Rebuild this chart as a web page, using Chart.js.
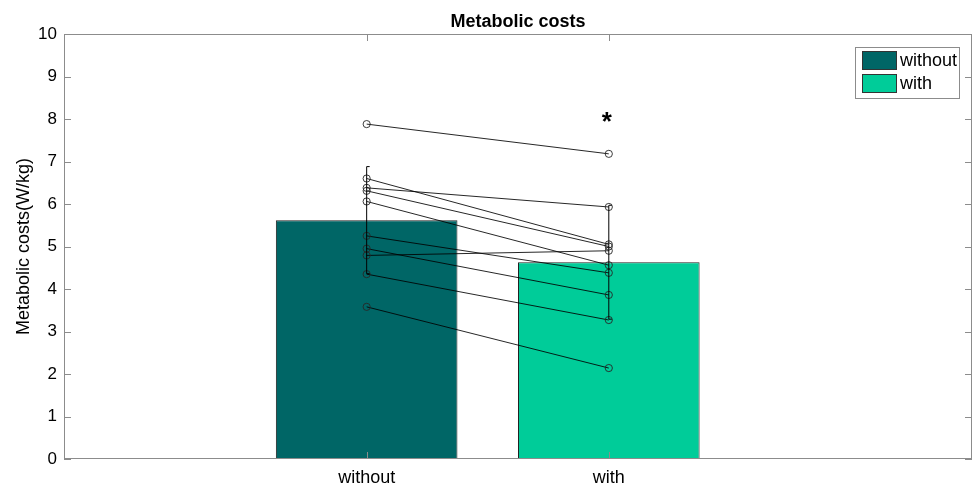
<!DOCTYPE html>
<html>
<head>
<meta charset="utf-8">
<script src="https://cdn.jsdelivr.net/npm/chart.js@4"></script>
<style>
  html, body { margin: 0; padding: 0; background: #fff; overflow: hidden; }
</style>
</head>
<body>
<canvas id="c" width="973" height="486"></canvas>
<script>
// categories and values
const categories = ['without', 'with'];
const barColors = ['#006666', '#00cc99'];
const meanCost = [5.62, 4.63];
const sdCost = [1.26, 1.34];
const withoutCost = [7.88, 6.60, 6.38, 6.31, 6.06, 5.25, 4.95, 4.79, 4.35, 3.58];
const withCost    = [7.18, 5.05, 5.93, 5.00, 4.56, 4.38, 3.86, 4.90, 3.27, 2.14];
const yTicks = [0, 1, 2, 3, 4, 5, 6, 7, 8, 9, 10];
const starAt = { x: 2, y: 8.0 };

const axisGrey = '#8c8c8c';
const fontFam = '"Liberation Sans", Arial, sans-serif';

// one dataset per subject: connected open circles
const subjectSets = withoutCost.map((v, i) => ({
  type: 'line',
  data: [{ x: 1, y: v }, { x: 2, y: withCost[i] }],
  borderColor: 'rgba(0,0,0,0.85)',
  borderWidth: 1,
  pointStyle: 'circle',
  pointRadius: 3.6,
  pointBorderWidth: 1,
  pointBorderColor: 'rgba(40,40,40,0.9)',
  pointBackgroundColor: 'rgba(0,0,0,0)',
  order: 1
}));

// error bars as vertical segments with dash caps
const errorSets = meanCost.map((m, i) => ({
  type: 'line',
  data: [{ x: i + 1, y: m - sdCost[i] }, { x: i + 1, y: m + sdCost[i] }],
  borderColor: '#000',
  borderWidth: 1,
  pointStyle: 'dash',
  pointRadius: 3,
  pointBorderColor: '#000',
  pointBorderWidth: 1,
  order: 1
}));

const boxPlugin = {
  id: 'box',
  afterDraw(chart) {
    const { ctx, chartArea: a, scales } = chart;
    ctx.save();
    // axes box
    ctx.strokeStyle = axisGrey;
    ctx.lineWidth = 1;
    ctx.strokeRect(a.left + 0.5, a.top + 0.5, a.right - a.left - 1, a.bottom - a.top - 1);
    // inside ticks
    ctx.beginPath();
    yTicks.forEach(t => {
      const y = Math.round(scales.y.getPixelForValue(t)) + 0.5;
      ctx.moveTo(a.left, y); ctx.lineTo(a.left + 7, y);
      ctx.moveTo(a.right, y); ctx.lineTo(a.right - 7, y);
    });
    categories.forEach((c, i) => {
      const x = Math.round(scales.x.getPixelForValue(i + 1)) + 0.5;
      ctx.moveTo(x, a.bottom); ctx.lineTo(x, a.bottom - 7);
      ctx.moveTo(x, a.top); ctx.lineTo(x, a.top + 7);
    });
    ctx.stroke();

    // title
    ctx.fillStyle = '#000';
    ctx.font = 'bold 18px ' + fontFam;
    ctx.textAlign = 'center';
    ctx.textBaseline = 'alphabetic';
    ctx.fillText('Metabolic costs', (a.left + a.right) / 2, 27);

    // significance star
    ctx.font = 'bold 26px ' + fontFam;
    ctx.textBaseline = 'middle';
    ctx.fillText('*', scales.x.getPixelForValue(starAt.x) - 2, scales.y.getPixelForValue(starAt.y) + 4);

    // legend
    const lx = 855, ly = 47, lw = 104, lh = 51;
    ctx.fillStyle = '#fff';
    ctx.fillRect(lx, ly, lw, lh);
    ctx.strokeStyle = axisGrey;
    ctx.strokeRect(lx + 0.5, ly + 0.5, lw, lh);
    ctx.font = '18px ' + fontFam;
    ctx.textAlign = 'left';
    categories.forEach((c, i) => {
      const y = ly + 4 + i * 23;
      ctx.fillStyle = barColors[i];
      ctx.fillRect(lx + 7, y + 0.5, 34, 18);
      ctx.strokeStyle = '#333';
      ctx.strokeRect(lx + 7.5, y + 0.5, 34, 18);
      ctx.fillStyle = '#000';
      ctx.fillText(c, lx + 45, y + 10);
    });
    ctx.restore();
  }
};

new Chart(document.getElementById('c'), {
  type: 'bar',
  data: {
    datasets: [
      {
        type: 'bar',
        data: meanCost.map((m, i) => ({ x: i + 1, y: m })),
        backgroundColor: barColors,
        borderColor: '#222',
        borderWidth: 1,
        barPercentage: 0.75,
        categoryPercentage: 1,
        order: 2
      },
      ...errorSets,
      ...subjectSets
    ]
  },
  options: {
    responsive: false,
    animation: false,
    layout: { autoPadding: false, padding: { top: 34, right: 1, left: 0, bottom: 0 } },
    plugins: { legend: { display: false }, tooltip: { enabled: false }, title: { display: false } },
    scales: {
      x: {
        type: 'linear',
        min: -0.25,
        max: 3.5,
        offset: false,
        grid: { display: false, drawTicks: false },
        border: { display: false },
        afterBuildTicks: s => { s.ticks = categories.map((c, i) => ({ value: i + 1 })); },
        afterFit: s => { s.height = 27; s.paddingLeft = 0; s.paddingRight = 0; },
        ticks: {
          autoSkip: false,
          maxRotation: 0,
          padding: 8,
          color: '#000',
          font: { size: 18, family: fontFam },
          callback: v => categories[v - 1] || ''
        }
      },
      y: {
        min: 0,
        max: 10,
        grid: { display: false, drawTicks: false },
        border: { display: false },
        afterBuildTicks: s => { s.ticks = yTicks.map(v => ({ value: v })); },
        afterFit: s => { s.width = 64; s.paddingTop = 0; s.paddingBottom = 0; },
        ticks: {
          padding: 7,
          color: '#000',
          font: { size: 17, family: fontFam }
        },
        title: {
          display: true,
          text: 'Metabolic costs(W/kg)',
          color: '#000',
          padding: { top: 13, bottom: 0 },
          font: { size: 18, family: fontFam }
        }
      }
    }
  },
  plugins: [boxPlugin]
});
</script>
</body>
</html>
